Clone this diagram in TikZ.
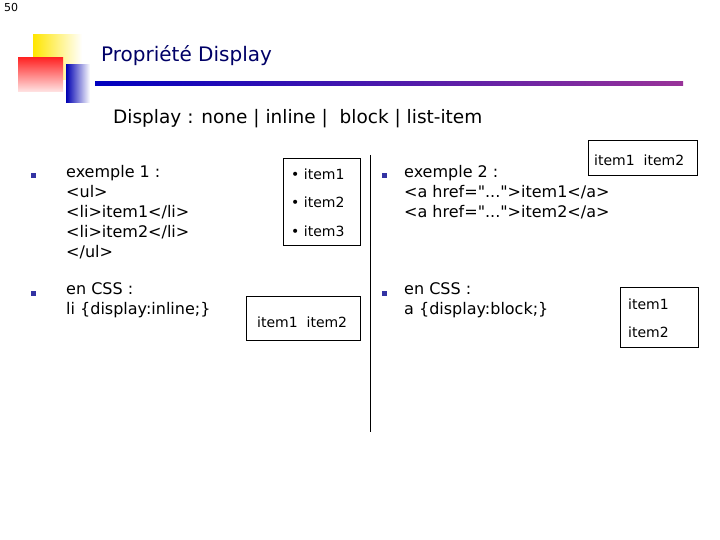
\documentclass[tikz,border=0pt]{standalone}
\usepackage{fontspec}
\setmainfont[Ligatures=TeXOff]{DejaVu Sans}
\begin{document}
\begin{tikzpicture}[x=1pt,y=-1pt,
  body/.style={anchor=north west,inner sep=0pt,font=\fontsize{16}{20}\selectfont,align=left},
  sbox/.style={draw,line width=0.8pt,inner sep=0pt,anchor=north west},
  itm/.style={anchor=west,inner sep=0pt,font=\fontsize{14}{16}\selectfont},
  bul/.style={fill=blue!55!black!80,minimum size=5pt,inner sep=0pt}]
\useasboundingbox (0,0) rectangle (720,540);
\node[anchor=north west,inner sep=0pt,font=\fontsize{11}{12}\selectfont] (pg) at (4,3) {50};
% decoration
\shade[left color=yellow!80!orange,right color=white] (33,35) rectangle (82,80);
\shade[top color=red!85,bottom color=red!10] (18,58) rectangle (63,92);
\shade[left color=blue!70!black,right color=white] (66,65) rectangle (90,103);
\shade[left color=blue!75!black,right color=violet!80] (95,82) rectangle (683,86);
\node[anchor=west,inner sep=0pt,text=blue!40!black,font=\fontsize{20}{24}\selectfont] (title) at (101,56) {Propriété Display};
\node[anchor=west,inner sep=0pt,font=\fontsize{18.5}{22}\selectfont] (sub) at (113,119) {Display : none | inline | \ block | list-item};
% left column
\node[bul] (b1) at (33,176) {};
\node[body] (t1) at (66,165) {exemple 1 :\\ <ul>\\ <li>item1</li>\\ <li>item2</li>\\ </ul>};
\node[bul] (b2) at (33,293) {};
\node[body] (t2) at (66,282) {en CSS :\\ li \{display:inline;\}};
% middle boxes
\node[sbox,minimum width=77pt,minimum height=87pt] (box1) at (283,158) {};
\node[itm] (i1) at (291,174) {• item1};
\node[itm] (i2) at (291,202) {• item2};
\node[itm] (i3) at (291,231) {• item3};
\node[sbox,minimum width=114pt,minimum height=44pt] (box2) at (246,296) {};
\node[itm] (i4) at (257,322) {item1\ \ item2};
% divider
\coordinate (d1) at (370,155); \coordinate (d2) at (370,432);
\draw[line width=0.8pt] (d1) -- (d2);
% right column
\node[bul] (b3) at (384,176) {};
\node[body] (t3) at (404,165) {exemple 2 :\\ <a href="...">item1</a>\\ <a href="...">item2</a>};
\node[bul] (b4) at (384,293) {};
\node[body] (t4) at (404,282) {en CSS :\\ a \{display:block;\}};
\node[sbox,minimum width=109pt,minimum height=35pt] (box3) at (588,140) {};
\node[itm] (i5) at (594,160) {item1\ \ item2};
\node[sbox,minimum width=78pt,minimum height=60pt] (box4) at (620,287) {};
\node[itm] (i6) at (628,304) {item1};
\node[itm] (i7) at (628,332) {item2};
\end{tikzpicture}
\end{document}
